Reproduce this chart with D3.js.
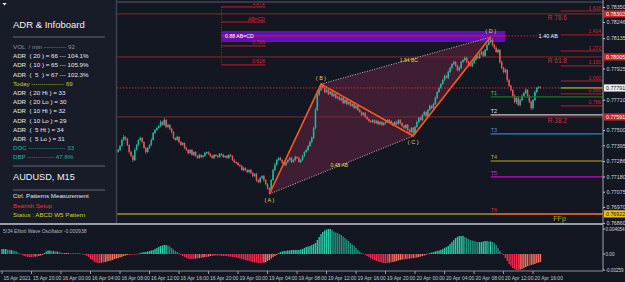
<!DOCTYPE html>
<html><head><meta charset="utf-8">
<script src="https://cdn.jsdelivr.net/npm/d3@7"></script>
<style>
body{margin:0;background:#131722;overflow:hidden}
svg{display:block}
text{font-family:"Liberation Sans",Arial,sans-serif;white-space:pre}
</style></head><body>
<svg id="c" width="625" height="282"></svg>
<script>
// ---------- DATA ----------
const firstIdx = 63;            // index of first visible candle
const firstOpen = 77349;        // price points (1e-5)
const closes = [
77363,77391,77432,77453,77439,77398,77349,77322,77294,77363,
77398,77432,77446,77418,77377,77349,77377,77398,77432,77480,
77501,77515,77529,77556,77536,77570,77522,77536,77508,77487,
77446,77432,77453,77418,77398,77411,77377,77363,77342,77363,
77329,77349,77322,77308,77329,77315,77322,77342,77349,77336,
77322,77308,77329,77322,77315,77336,77329,77315,77322,77308,
77329,77322,77294,77280,77273,77260,77253,77225,77239,77225,
77211,77225,77204,77184,77197,77156,77142,77170,77184,77156,
77128,77101,77087,77156,77225,77260,77294,77308,77294,77273,
77260,77280,77294,77308,77280,77294,77315,77308,77280,77294,
77322,77349,77363,77391,77418,77446,77515,77639,77743,77777,
77805,77791,77763,77777,77749,77763,77736,77749,77722,77729,
77708,77722,77687,77708,77680,77694,77667,77680,77653,77667,
77639,77625,77605,77618,77591,77577,77563,77556,77570,77549,
77563,77542,77556,77536,77549,77556,77570,77563,77549,77536,
77556,77542,77570,77549,77529,77515,77536,77501,77487,77515,
77480,77522,77556,77584,77570,77605,77625,77598,77639,77667,
77653,77680,77722,77763,77791,77818,77846,77874,77860,77901,
77929,77956,77970,77943,77915,77929,77970,77984,77998,77970,
77950,77943,77963,77984,78012,77998,78025,78039,78012,78053,
78088,78108,78122,78088,78067,78039,78053,77970,77929,77901,
77915,77846,77805,77777,77736,77694,77722,77674,77708,77736,
77756,77777,77736,77694,77653,77708,77763,77791,77798,77791];
const wickUp = [
8,6,10,14,5,7,4,9,6,12, 7,5,9,6,4,8,6,5,10,7, 6,9,5,12,8,15,6,7,5,8, 6,4,9,5,7,6,4,8,5,6,
7,5,6,4,8,5,6,7,4,5, 6,8,5,4,7,6,5,8,4,6, 5,7,4,6,5,8,4,6,7,5, 6,4,8,5,6,9,5,7,4,6,
5,7,4,6,8,14,7,6,9,5, 8,6,5,10,7,6,9,5,8,6, 7,5,8,6,9,12,10,15,8,12, 13,18,8,12,6,9,7,10,6,8,
7,5,9,6,8,5,7,6,8,5, 6,9,5,7,6,8,5,7,6,5, 8,6,7,5,9,6,5,8,6,7, 5,9,6,7,5,8,6,7,5,6,
8,6,9,7,10,6,8,5,7,9, 6,8,10,7,9,6,8,10,7,12, 8,6,10,7,9,12,8,6,10,7, 9,6,8,10,7,9,6,8,10,7,
9,12,20,10,8,12,9,7,10,8, 12,7,10,8,6,12,9,14,7,10, 8,12,6,9,10,7,12,8,6,5];
const wickDn = [
6,9,5,7,10,8,12,6,14,7, 5,8,6,9,7,12,5,6,8,4, 7,5,6,8,5,7,9,6,8,10, 8,6,5,9,7,5,8,6,10,7,
5,8,6,7,5,9,6,5,8,6, 7,5,8,6,9,5,7,6,8,5, 6,8,5,7,9,6,8,5,10,7, 8,9,6,10,7,12,8,9,6,10,
8,12,28,10,7,9,6,8,5,7, 6,9,7,5,8,6,10,7,5,8, 6,7,5,8,6,9,8,10,7,6, 8,5,9,6,8,5,7,9,6,8,
5,7,9,6,10,7,5,8,6,9, 7,5,8,6,9,7,10,6,8,5, 7,9,6,8,5,10,7,6,9,8, 6,8,5,9,7,6,10,8,6,9,
20,7,6,9,5,8,6,10,7,5, 8,6,7,9,5,7,6,8,5,7, 6,9,7,5,8,10,6,7,9,6, 8,6,10,7,5,9,6,8,7,5,
7,5,6,9,8,6,10,12,8,10, 9,14,8,10,12,9,15,8,10,9, 7,9,12,8,15,10,6,8,7,5];
// Elliott Wave Oscillator (units of 0.0001), bar 0 .. 292
const osc = [
8.1,8.1,8.1,7.3,6.5,6.5,5.7,4.9,4.1, 1.6,0.8,
-1.6,-3.2,-4.1,-4.9,-4.9,-4.9,-4.9,-4.1,-4.1,-3.2,-2.4,-1.6,
1.6,4.1,5.7,5.7,4.9,4.9,4.1,4.1,3.2,2.4,
1.6,1.6,1.6,1.6,0.8,0.8,0.8,0.8,0.8,0.8,0.5,0.2,
-1.6,-3.2,-4.9,-8.1,-9.7,-12.2,-13.8,-14.6,-14.6,-13.8,-13.8,-13.0,-12.2,-11.3,-10.5,-9.7,-8.1,-7.3,-6.5,-5.7,-4.9,-3.2,-2.4,-1.6,-1.6,-0.8,-0.8,-0.5,-0.5,
0.3,
1.6,2.4,3.2,3.2,4.1,4.9,5.7,6.5,8.1,9.7,11.3,13.0,13.8,14.6,14.6,13.8,12.2,9.7,7.3,4.9,3.2,1.6,
-1.6,-3.2,-4.9,-6.5,-7.3,-8.1,-8.1,-8.1,-7.3,-7.3,-6.5,-6.5,-5.7,-4.9,-4.9,-4.1,-3.2,-3.2,-2.4,-2.4,-2.4,-2.4,-3.2,-3.2,
-3.2,-3.2,-4.1,-4.1,-4.9,-4.9,-5.7,-6.5,-7.3,-8.1,-8.9,-9.7,-10.5,-11.3,-12.2,-13.0,-13.8,-13.8,-14.6,-14.6,-14.6,-13.8,-13.0,-11.3,-9.7,-7.3,-4.9,-3.2,-1.6,
1.6,3.2,4.1,4.9,4.9,5.7,5.7,6.5,6.5,6.5,
6.5,6.5,7.3,8.1,9.7,11.3,12.2,13.0,14.6,16.2,17.8,22.7,27.6,32.4,35.7,38.1,39.7,40.5,40.5,38.9,36.5,34.9,34.1,32.4,30.8,28.4,25.9,23.5,21.1,17.8,15.4,13.0,9.7,6.5,4.1,1.6,0.8,
-1.6,-3.2,-4.9,-6.5,-8.1,-9.7,-11.3,-12.2,-13.0,-13.8,-14.6,-14.6,-14.6,-13.8,-13.8,-13.0,-12.2,-11.3,-10.5,-9.7,-8.9,-8.9,-8.1,-8.1,-7.3,-7.3,-6.5,-6.5,-5.7,-4.9,-4.1,-3.2,-2.4,-1.6,
0.8,1.6,2.4,3.2,4.1,4.9,5.7,6.5,8.1,9.7,11.3,13.0,16.2,19.5,22.7,25.9,27.6,29.2,29.2,29.2,27.6,25.9,24.3,22.7,21.9,21.1,20.3,19.5,19.5,19.5,20.3,21.1,21.1,20.3,20.3,19.5,17.8,14.6,9.7,4.9,0.8,
-1.6,-6.5,-11.3,-16.2,-19.5,-22.7,-24.3,-25.9,-25.9,-25.1,-24.3,-22.7,-21.1,-19.5,-19.5,-17.8,-17.0,-16.2,-14.6,-13.8,-13.0];
const timeLabels = ["15 Apr 2021","15 Apr 20:00","16 Apr 00:00","16 Apr 04:00","16 Apr 08:00","16 Apr 12:00","16 Apr 16:00","16 Apr 20:00","19 Apr 00:00","19 Apr 04:00","19 Apr 08:00","19 Apr 12:00","19 Apr 16:00","19 Apr 20:00","20 Apr 00:00","20 Apr 04:00","20 Apr 08:00","20 Apr 12:00","20 Apr 16:00"];
const timeLabelIdx = [0,16,32,48,64,80,96,112,128,144,160,176,192,208,224,240,256,272,288];
const priceTicks = [0.78350,0.78246,0.78135,0.77925,0.77710,0.77500,0.77395,0.77286,0.77180,0.77075,0.76970,0.76860];
const oscTicks = [0.004054,0,-0.00259];
const oscTickLabels = ["0.004054","0.00","-0.00259"];
const patternNames = ["A","B","C","D"];
const patternIdx = [145,173,223,265];
const patternPrice = [0.77059,0.77818,0.77460,0.78142];
const ratioLabels = ["0.48 AB","1.84 BC"];
const retraceNames = ["R 78.6","R 61.8","R 38.2"];
const retracePrice = [0.78302,0.78005,0.77591];
const targetNames = ["T1","T2","T3","T4","T5","T6"];
const targetPrice = [0.77729,0.77605,0.77474,0.77287,0.77177,0.76922];
const projNames = ["1.272","AB=CD","0.786","0.618"];
const projPrice = [0.78350,0.78246,0.78081,0.77950];
const przTop = 0.78184, przBottom = 0.78108, przMid = 0.78150;
const przLabel = "0.88 AB=CD", abLabel = "1.40 AB";
const fibNames = ["1.618","1.414","1.272","1.130","1.000","0.886","0.786"];
const fibPrice = [0.78322,0.78157,0.78046,0.77943,0.77839,0.77750,0.77667];
const ffpPrice = 0.76922;
const infoLines = [
 ["VOL  / min ----------- 92","#8d919c"],
 ["ADR  ( 20 ) = 66 --- 104.1%","#e8e8e8"],
 ["ADR  ( 10 ) = 65 --- 105.9%","#e8e8e8"],
 ["ADR  (  5  ) = 67 --- 102.3%","#e8e8e8"],
 ["Today ---------------- 69","#d6d10f"],
 ["ADR  ( 20 Hi ) = 33","#e8e8e8"],
 ["ADR  ( 20 Lo ) = 30","#e8e8e8"],
 ["ADR  ( 10 Hi ) = 32","#e8e8e8"],
 ["ADR  ( 10 Lo ) = 29","#e8e8e8"],
 ["ADR  (  5 Hi ) = 34","#e8e8e8"],
 ["ADR  (  5 Lo ) = 31","#e8e8e8"],
 ["DOC ------------------ 33","#19b3b0"],
 ["DBP ------------- 47.8%","#19b3b0"]];
const setupLines = [["Ctrl. Patterns Measurement","#e8e8e8"],["Bearish Setup","#ff2a2a"],["Status : ABCD W5 Pattern","#d6d10f"]];

// ---------- SCALES ----------
const svg = d3.select("#c");
const W = 625, H = 282, axisX = 603;
const x = d3.scaleLinear().domain([0,292]).range([2, 2+292*1.844]);
const y = d3.scaleLinear().domain([0.78398,0.76866]).range([0,222]);
const yo = d3.scaleLinear().domain([0.004054,-0.00259]).range([229,270]);

svg.append("rect").attr("width",W).attr("height",H).attr("fill","#131722");
const defs = svg.append("defs");
defs.append("clipPath").attr("id","pc").append("rect").attr("x",0).attr("y",3).attr("width",axisX).attr("height",220);
const P = svg.append("g").attr("clip-path","url(#pc)");

// full-width retrace lines
P.selectAll(".rl").data(retracePrice).join("line")
 .attr("x1",0).attr("x2",axisX).attr("y1",d=>y(d)).attr("y2",d=>y(d))
 .attr("stroke","#8c2a2a").attr("stroke-width",1);
// FFp line
P.append("line").attr("x1",0).attr("x2",axisX).attr("y1",y(ffpPrice)).attr("y2",y(ffpPrice))
 .attr("stroke","#7d7324").attr("stroke-width",2);

// ABCD shaded area
const pts = patternIdx.map((d,k)=>[x(d),y(patternPrice[k])]);
P.append("path").attr("d",d3.line()([pts[0],pts[1],pts[3],pts[2]])+"Z")
 .attr("fill","#6b2543").attr("fill-opacity",0.5);

// PRZ box
P.append("rect").attr("x",x(119)).attr("width",x(273)-x(119))
 .attr("y",y(przTop)).attr("height",y(przBottom)-y(przTop)).attr("fill","#6410b4");
P.append("line").attr("x1",x(119)).attr("x2",x(273)).attr("y1",y(przMid)).attr("y2",y(przMid))
 .attr("stroke","#e0143a").attr("stroke-width",1);
P.append("line").attr("x1",x(273)).attr("x2",x(290)).attr("y1",y(przMid)).attr("y2",y(przMid))
 .attr("stroke","#e0143a").attr("stroke-dasharray","1.5,1.5");
P.append("text").attr("x",x(121)).attr("y",y(przMid)+2).text(przLabel)
 .attr("fill","#ffffff").attr("font-size",5.2);
P.append("text").attr("x",x(291)).attr("y",y(przMid)+2).text(abLabel)
 .attr("fill","#ffffff").attr("font-size",5.5);

// left projection levels
P.selectAll(".pl").data(projPrice).join("line")
 .attr("x1",x(119)).attr("x2",x(143)).attr("y1",d=>y(d)).attr("y2",d=>y(d))
 .attr("stroke","#c81e28").attr("stroke-width",1);
P.selectAll(".pt").data(projPrice).join("text")
 .attr("x",x(143)-1).attr("y",d=>y(d)-1.5).attr("text-anchor","end")
 .attr("fill","#e0252f").attr("font-size",5).text((d,k)=>projNames[k]);
P.append("line").attr("x1",x(119)).attr("x2",x(119)).attr("y1",y(projPrice[0])).attr("y2",y(projPrice[3]))
 .attr("stroke","#c81e28").attr("stroke-dasharray","1,1.5");

// candles
const bars = closes.map((c,k)=>{const o = k?closes[k-1]:firstOpen;
  return {i:firstIdx+k,o:o/1e5,c:c/1e5,h:(Math.max(o,c)+wickUp[k])/1e5,l:(Math.min(o,c)-wickDn[k])/1e5};});
const col = d=> d.c>=d.o ? "#22b9a0" : "#e9555b";
P.selectAll(".wk").data(bars).join("line")
 .attr("x1",d=>x(d.i)).attr("x2",d=>x(d.i)).attr("y1",d=>y(d.h)).attr("y2",d=>y(d.l))
 .attr("stroke",col).attr("stroke-width",0.8);
P.selectAll(".bd").data(bars).join("rect")
 .attr("x",d=>x(d.i)-0.75).attr("width",1.5)
 .attr("y",d=>y(Math.max(d.o,d.c))).attr("height",d=>Math.max(0.7,Math.abs(y(d.o)-y(d.c))))
 .attr("fill",col);

// dotted diagonals
P.append("line").attr("x1",pts[0][0]).attr("y1",pts[0][1]).attr("x2",pts[2][0]).attr("y2",pts[2][1])
 .attr("stroke","#b9aeb9").attr("stroke-dasharray","1.2,1.3").attr("stroke-width",0.9);
P.append("line").attr("x1",pts[1][0]).attr("y1",pts[1][1]).attr("x2",pts[3][0]).attr("y2",pts[3][1])
 .attr("stroke","#b9aeb9").attr("stroke-dasharray","1.2,1.3").attr("stroke-width",0.9);
// ABCD legs
P.append("path").attr("d",d3.line()(pts)).attr("fill","none").attr("stroke","#ff5b1e").attr("stroke-width",1.6);
P.selectAll(".pn").data(patternNames).join("text")
 .attr("x",(d,k)=>pts[k][0]).attr("y",(d,k)=>k%2===0? pts[k][1]+8 : pts[k][1]-4)
 .attr("text-anchor","middle").attr("fill","#e6d44a").attr("font-size",5.5).text(d=>"( "+d+" )");
const mAC=[(pts[0][0]+pts[2][0])/2,(pts[0][1]+pts[2][1])/2], mBD=[(pts[1][0]+pts[3][0])/2,(pts[1][1]+pts[3][1])/2];
P.append("text").attr("x",mAC[0]-2).attr("y",mAC[1]+2).attr("text-anchor","middle").attr("fill","#e6d44a").attr("font-size",5).text(ratioLabels[0]);
P.append("text").attr("x",mBD[0]+3).attr("y",mBD[1]+1).attr("text-anchor","middle").attr("fill","#e6d44a").attr("font-size",5).text(ratioLabels[1]);

// current price
const last = bars[bars.length-1].c;
P.append("line").attr("x1",0).attr("x2",x(303)).attr("y1",y(last)).attr("y2",y(last))
 .attr("stroke","#e8202a").attr("stroke-dasharray","1.5,1.5");
P.append("line").attr("x1",x(303)).attr("x2",axisX).attr("y1",y(last)).attr("y2",y(last))
 .attr("stroke","#e6e21a").attr("stroke-width",1);

// right fib levels
P.selectAll(".fl").data(fibPrice).join("line")
 .attr("x1",x(303)).attr("x2",axisX).attr("y1",d=>y(d)).attr("y2",d=>y(d))
 .attr("stroke","#b51c24").attr("stroke-width",1);
P.selectAll(".ft").data(fibPrice).join("text")
 .attr("x",axisX-2).attr("y",d=>y(d)-1.5).attr("text-anchor","end")
 .attr("fill","#d8262e").attr("font-size",5).text((d,k)=>fibNames[k]);

// targets
const tCol = ["#1f6f2c","#c8c8c8","#2f7fe0","#847a14","#c010c0","#ff4a12"];
const tTxt = ["#2fd24a","#e0e0e0","#3b8ef0","#b8ad20","#d02ad0","#e0202a"];
P.selectAll(".tl").data(targetPrice).join("line")
 .attr("x1",x(265)).attr("x2",axisX).attr("y1",d=>y(d)).attr("y2",d=>y(d))
 .attr("stroke",(d,k)=>tCol[k]).attr("stroke-width",1.3);
P.selectAll(".tt").data(targetPrice).join("text")
 .attr("x",x(265)).attr("y",d=>y(d)-2).attr("fill",(d,k)=>tTxt[k]).attr("font-size",5.5).text((d,k)=>targetNames[k]);
P.append("text").attr("x",x(299)).attr("y",y(ffpPrice)+7).attr("fill","#b8a33a").attr("font-size",7).text("FFp");

// retrace labels
P.selectAll(".rt").data(retracePrice).join("text")
 .attr("x",x(296)).attr("y",d=>y(d)+6).attr("fill","#c0383a").attr("font-size",6.5).text((d,k)=>retraceNames[k]);

// top border
svg.append("line").attr("x1",115).attr("x2",axisX).attr("y1",2).attr("y2",2).attr("stroke","#5b5f6a").attr("stroke-width",1);

// ---------- PRICE AXIS ----------
svg.append("line").attr("x1",axisX).attr("x2",axisX).attr("y1",0).attr("y2",271).attr("stroke","#8a8d96").attr("stroke-width",1.2);
const ax = svg.append("g").attr("transform",`translate(${axisX},0)`)
 .call(d3.axisRight(y).tickValues(priceTicks).tickSize(2).tickFormat(d3.format(".5f")));
ax.select(".domain").remove();
ax.selectAll("line").attr("stroke","#c8c8c8");
ax.selectAll("text").attr("fill","#d4d6dc").attr("font-size",5.3).attr("x",3.5)
 .attr("font-family","Liberation Sans, Arial, sans-serif");
function tag(v,bg,fg){
  const g=svg.append("g");
  g.append("rect").attr("x",axisX+1).attr("y",y(v)-3.6).attr("width",21).attr("height",7.2).attr("fill",bg);
  g.append("text").attr("x",axisX+3).attr("y",y(v)+2).attr("fill",fg).attr("font-size",5.3).text(d3.format(".5f")(v));
}
retracePrice.forEach(v=>tag(v,"#c42828","#ffffff"));
tag(last,"#f0f0f0","#101010");
tag(ffpPrice,"#e8c21a","#101010");

// ---------- OSCILLATOR ----------
svg.append("line").attr("x1",0).attr("x2",axisX).attr("y1",224).attr("y2",224).attr("stroke","#9a9da6").attr("stroke-width",2);
svg.append("line").attr("x1",0).attr("x2",axisX).attr("y1",271).attr("y2",271).attr("stroke","#8a8d96").attr("stroke-width",1);
const ob = osc.map((v,i)=>({i,v:v*1e-4,p:i?osc[i-1]*1e-4:v*1e-4}));
const oc = d=> d.v>=0 ? (d.v>=d.p? "#28c9a6":"#1f8d7c") : (d.v<=d.p? "#f2284a":"#f0725e");
svg.selectAll(".ob").data(ob).join("rect")
 .attr("x",d=>x(d.i)-0.7).attr("width",1.4)
 .attr("y",d=>Math.min(yo(d.v),yo(0))).attr("height",d=>Math.max(0.5,Math.abs(yo(d.v)-yo(0))))
 .attr("fill",oc);
svg.append("text").attr("x",3).attr("y",233).attr("fill","#b4b7c0").attr("font-size",5).text("5/34 Elliott Wave Oscillator -0.000938");
const oa = svg.append("g");
oa.selectAll("text").data(oscTicks).join("text").attr("x",axisX+2.5).attr("y",d=>yo(d)+1.8)
 .attr("fill","#d4d6dc").attr("font-size",4.6).text((d,k)=>oscTickLabels[k]);
oa.selectAll("line").data(oscTicks).join("line").attr("x1",axisX).attr("x2",axisX+2).attr("y1",d=>yo(d)).attr("y2",d=>yo(d)).attr("stroke","#c8c8c8");

// ---------- TIME AXIS ----------
const ta = svg.append("g");
ta.selectAll("line").data(timeLabelIdx).join("line").attr("x1",d=>x(d)).attr("x2",d=>x(d)).attr("y1",271).attr("y2",274).attr("stroke","#9a9da6");
ta.selectAll("text").data(timeLabelIdx).join("text").attr("x",d=>x(d)+1.5).attr("y",279.5)
 .attr("fill","#c4c7cf").attr("font-size",5).text((d,k)=>timeLabels[k]);

// ---------- INFO PANEL ----------
const I = svg.append("g");
I.append("rect").attr("x",0).attr("y",0).attr("width",116).attr("height",223).attr("fill","#181c28");
I.append("line").attr("x1",116.5).attr("x2",116.5).attr("y1",0).attr("y2",223).attr("stroke","#3d4250").attr("stroke-width",1.5);
I.append("path").attr("d","M2.5,3 L6.5,3 L4.5,5.5Z").attr("fill","#ffffff");
I.append("text").attr("x",13).attr("y",28).attr("fill","#f2f2f2").attr("font-size",9.5).text("ADR & Infoboard");
[37,166,190].forEach(v=>I.append("line").attr("x1",13).attr("x2",105).attr("y1",v).attr("y2",v).attr("stroke","#4a4e5b").attr("stroke-width",1.5));
I.selectAll(".il").data(infoLines).join("text").attr("x",13).attr("y",(d,k)=>49+k*9.2)
 .attr("fill",d=>d[1]).attr("font-size",6.2).text(d=>d[0]);
I.append("text").attr("x",13).attr("y",180).attr("fill","#f2f2f2").attr("font-size",9.2).text("AUDUSD, M15");
I.selectAll(".sl").data(setupLines).join("text").attr("x",13).attr("y",(d,k)=>198+k*9.5)
 .attr("fill",d=>d[1]).attr("font-size",6.2).text(d=>d[0]);
</script></body></html>
